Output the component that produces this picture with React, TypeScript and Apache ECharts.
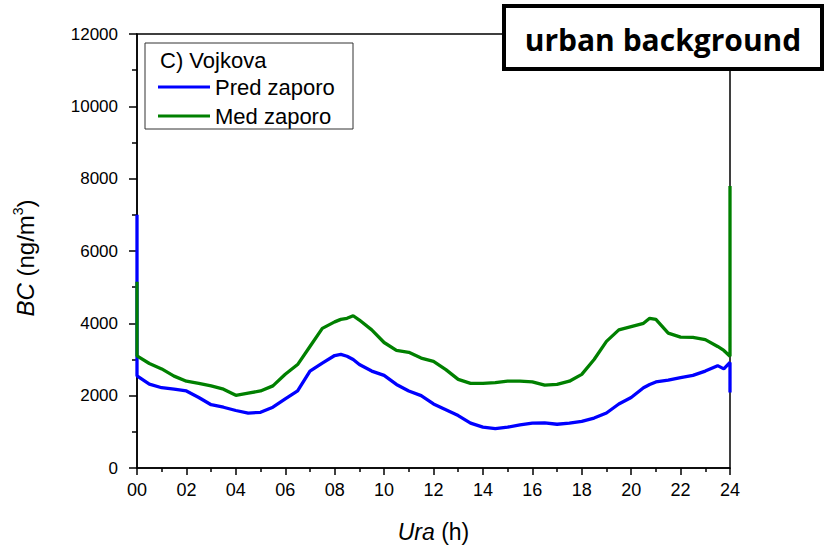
import React, { useEffect, useRef } from "react";
import * as echarts from "echarts";

// Hours of the day (h)
const hours = [
  0, 0.5, 1, 1.5, 2, 2.5, 3, 3.5, 4, 4.5, 5, 5.5, 6, 6.5, 7, 7.5, 8, 8.25, 8.5, 8.75, 9, 9.5,
  10, 10.5, 11, 11.5, 12, 12.5, 13, 13.5, 14, 14.5, 15, 15.5, 16, 16.5, 17, 17.5, 18, 18.5,
  19, 19.5, 20, 20.5, 20.75, 21, 21.5, 22, 22.5, 23, 23.5, 23.75, 24,
];

// BC (ng/m3) before closure
const predZaporo = [
  2550, 2320, 2220, 2180, 2130, 1950, 1750, 1680, 1590, 1520, 1540, 1680, 1910, 2130, 2680, 2900,
  3110, 3140, 3090, 3000, 2860, 2680, 2560, 2310, 2130, 2000, 1770, 1610, 1450, 1240, 1130, 1090,
  1130, 1190, 1240, 1250, 1210, 1240, 1290, 1380, 1520, 1770, 1950, 2220, 2310, 2380, 2430, 2500,
  2560, 2680, 2830, 2740, 2920,
];

// BC (ng/m3) during closure
const medZaporo = [
  3100, 2890, 2740, 2540, 2400, 2340, 2270, 2180, 2010, 2070, 2130, 2270, 2590, 2860, 3360, 3860,
  4040, 4110, 4140, 4210, 4090, 3820, 3470, 3250, 3200, 3040, 2950, 2720, 2450, 2340, 2340, 2360,
  2400, 2400, 2380, 2290, 2310, 2400, 2590, 3000, 3500, 3820, 3910, 4000, 4140, 4110, 3730, 3620,
  3610, 3550, 3360, 3250, 3090,
];

// spikes at the very start and end of the day
const predSpikes = [7000, 2090];
const medSpikes = [5150, 7800];

const xTickLabels = ["00", "02", "04", "06", "08", "10", "12", "14", "16", "18", "20", "22", "24"];
const seriesNames = ["Pred zaporo", "Med zaporo"];
const legendTitle = "C) Vojkova";
const boxTitle = "urban background";

const FONT = "'Liberation Sans', Arial, sans-serif";

function build(values: number[], spikes: number[]) {
  const d: number[][] = [[0, spikes[0]]];
  hours.forEach((h, i) => d.push([h, values[i]]));
  d.push([24, spikes[1]]);
  return d;
}

export default function App() {
  const ref = useRef<HTMLDivElement>(null);
  useEffect(() => {
    if (!ref.current) return;
    const chart = echarts.init(ref.current, undefined, { renderer: "svg" });
    chart.setOption({
      animation: false,
      backgroundColor: "#fff",
      grid: {
        left: 137,
        top: 34,
        right: 103,
        bottom: 75,
        show: true,
        borderColor: "#000",
        borderWidth: 1.5,
        backgroundColor: "transparent",
      },
      xAxis: {
        type: "value",
        min: 0,
        max: 24,
        interval: 2,
        name: "{i|Ura} (h)",
        nameLocation: "middle",
        nameGap: 52,
        nameTextStyle: {
          fontFamily: FONT,
          fontSize: 23,
          color: "#000",
          rich: { i: { fontFamily: FONT, fontSize: 23, fontStyle: "italic", color: "#000" } },
        },
        axisLine: { show: true, onZero: false, lineStyle: { color: "#000", width: 1.5 } },
        axisTick: { show: true, inside: false, length: 7, lineStyle: { color: "#000", width: 1.5 } },
        minorTick: { show: true, splitNumber: 2, length: 4, lineStyle: { color: "#000", width: 1.5 } },
        splitLine: { show: false },
        axisLabel: {
          margin: 13,
          fontFamily: FONT,
          fontSize: 18,
          color: "#000",
          formatter: (v: number) => xTickLabels[Math.round(v / 2)] ?? "",
        },
      },
      yAxis: {
        type: "value",
        min: 0,
        max: 12000,
        interval: 2000,
        name: "{i|BC} (ng/m{s|3})",
        nameLocation: "middle",
        nameRotate: 90,
        nameGap: 98,
        nameTextStyle: {
          fontFamily: FONT,
          fontSize: 24,
          color: "#000",
          lineHeight: 28,
          padding: [0, 14, 0, 0],
          rich: {
            i: { fontFamily: FONT, fontSize: 24, fontStyle: "italic", color: "#000", lineHeight: 28 },
            s: { fontFamily: FONT, fontSize: 14, color: "#000", verticalAlign: "top", lineHeight: 28 },
          },
        },
        axisLine: { show: true, onZero: false, lineStyle: { color: "#000", width: 1.5 } },
        axisTick: { show: true, inside: false, length: 8, lineStyle: { color: "#000", width: 1.5 } },
        minorTick: { show: true, splitNumber: 2, length: 5, lineStyle: { color: "#000", width: 1.5 } },
        splitLine: { show: false },
        axisLabel: {
          margin: 19,
          fontFamily: FONT,
          fontSize: 17,
          color: "#000",
          formatter: (v: number) => String(v),
        },
      },
      legend: {
        left: 158,
        top: 74,
        orient: "vertical",
        itemWidth: 52,
        itemHeight: 3,
        itemGap: 3,
        padding: 0,
        textStyle: { fontFamily: FONT, fontSize: 22, color: "#000", lineHeight: 26, padding: [0, 0, 0, 0] },
        data: seriesNames.map((n) => ({ name: n, icon: "rect" })),
      },
      series: [
        {
          name: seriesNames[0],
          type: "line",
          data: build(predZaporo, predSpikes),
          showSymbol: false,
          lineStyle: { color: "#0000ff", width: 3.3 },
          itemStyle: { color: "#0000ff" },
          z: 2,
        },
        {
          name: seriesNames[1],
          type: "line",
          data: build(medZaporo, medSpikes),
          showSymbol: false,
          lineStyle: { color: "#008000", width: 3.3 },
          itemStyle: { color: "#008000" },
          z: 3,
        },
      ],
      graphic: [
        {
          type: "rect",
          shape: { x: 145, y: 43, width: 208, height: 86 },
          style: { fill: "transparent", stroke: "#333", lineWidth: 1 },
          z: 50,
        },
        {
          type: "text",
          x: 160,
          y: 60,
          style: {
            text: legendTitle,
            font: `22px ${FONT}`,
            fill: "#000",
            verticalAlign: "middle",
          },
          z: 50,
        },
        {
          type: "rect",
          shape: { x: 504, y: 6, width: 318, height: 63 },
          style: { fill: "#fff", stroke: "#000", lineWidth: 4 },
          z: 100,
        },
        {
          type: "text",
          x: 663,
          y: 39,
          style: {
            text: boxTitle,
            font: `bold 30px 'Open Sans', sans-serif`,
            fill: "#000",
            align: "center",
            verticalAlign: "middle",
          },
          z: 101,
        },
      ],
    });
    return () => chart.dispose();
  }, []);
  return (
    <div
      ref={ref}
      style={{ position: "fixed", left: 0, top: 0, width: 833, height: 548 }}
    />
  );
}
